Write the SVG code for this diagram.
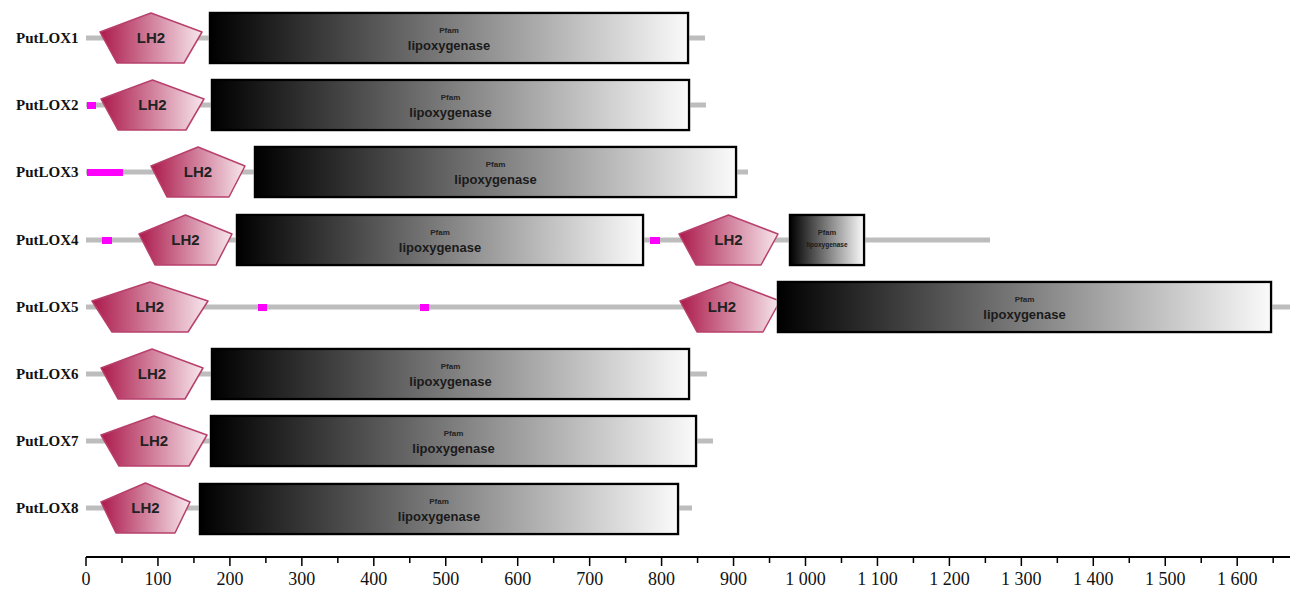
<svg xmlns="http://www.w3.org/2000/svg" width="1296" height="591" viewBox="0 0 1296 591">
<defs>
<linearGradient id="gPfam" x1="0" y1="0" x2="1" y2="0">
<stop offset="0" stop-color="#000"/>
<stop offset="1" stop-color="#fafafa"/>
</linearGradient>
<linearGradient id="gLH2" x1="0" y1="0" x2="1" y2="0">
<stop offset="0" stop-color="#ac1a4c"/>
<stop offset="1" stop-color="#f7e6ec"/>
</linearGradient>
<style>
.lab{font-family:"Liberation Serif",serif;font-weight:bold;font-size:15px;fill:#111}
.bb{fill:#bdbdbd}
.lh{fill:url(#gLH2);stroke:#b8406c;stroke-width:1.5;stroke-linejoin:round}
.lht{font-family:"Liberation Sans",Arial,sans-serif;font-weight:bold;font-size:15px;fill:#222;text-anchor:middle}
.pf{fill:url(#gPfam);stroke:#000;stroke-width:2.2}
.pfo{fill:none;stroke:#bbb;stroke-width:1}
.pt{font-family:"Liberation Sans",Arial,sans-serif;font-weight:bold;font-size:8px;fill:#222;text-anchor:middle}
.lt{font-family:"Liberation Sans",Arial,sans-serif;font-weight:bold;font-size:13px;fill:#1a1a1a;text-anchor:middle}
.mg{fill:#ff00ff}
.ax{stroke:#000;stroke-width:2;fill:none}
.tk{stroke:#000;stroke-width:1.5}
.tl{font-family:"Liberation Serif",serif;font-size:18px;fill:#111;text-anchor:middle}
</style>
</defs>

<g id="connectors">
<rect class="bb" x="86" y="35.5" width="619" height="5"/>
<rect class="bb" x="86" y="102.5" width="620" height="5"/>
<rect class="bb" x="86" y="169.5" width="662" height="5"/>
<rect class="bb" x="86" y="237.5" width="904" height="5"/>
<rect class="bb" x="86" y="304.5" width="1204" height="5"/>
<rect class="bb" x="86" y="371.5" width="621" height="5"/>
<rect class="bb" x="86" y="438.5" width="627" height="5"/>
<rect class="bb" x="86" y="505.5" width="606" height="5"/>
</g>

<g id="PutLOX1">
<text class="lab" x="16" y="43">PutLOX1</text>
<polygon class="lh" points="100,32 151,13 202,32 184,63 117,63"/>
<text class="lht" x="151" y="43">LH2</text>
<rect class="pfo" x="209" y="12" width="480" height="52"/>
<rect class="pf" x="210" y="13" width="478" height="50"/>
<text class="pt" x="449" y="33">Pfam</text>
<text class="lt" x="449" y="50">lipoxygenase</text>
</g>

<g id="PutLOX2">
<text class="lab" x="16" y="110">PutLOX2</text>
<rect class="mg" x="87" y="102" width="9" height="7"/>
<polygon class="lh" points="101,99 152.5,80 204,99 186,130 118,130"/>
<text class="lht" x="152.5" y="110">LH2</text>
<rect class="pfo" x="211" y="79" width="479" height="52"/>
<rect class="pf" x="212" y="80" width="477" height="50"/>
<text class="pt" x="450.5" y="100">Pfam</text>
<text class="lt" x="450.5" y="117">lipoxygenase</text>
</g>

<g id="PutLOX3">
<text class="lab" x="16" y="177">PutLOX3</text>
<rect class="mg" x="87" y="169" width="36" height="7"/>
<polygon class="lh" points="151,166 198,147 245,166 229,197 167,197"/>
<text class="lht" x="198" y="177">LH2</text>
<rect class="pfo" x="254" y="146" width="483" height="52"/>
<rect class="pf" x="255" y="147" width="481" height="50"/>
<text class="pt" x="495.5" y="167">Pfam</text>
<text class="lt" x="495.5" y="184">lipoxygenase</text>
</g>

<g id="PutLOX4">
<text class="lab" x="16" y="245">PutLOX4</text>
<rect class="mg" x="102" y="237" width="10" height="7"/>
<polygon class="lh" points="139,234 185.5,215 232,234 216,265 155,265"/>
<text class="lht" x="185.5" y="245">LH2</text>
<rect class="pfo" x="236" y="214" width="408" height="52"/>
<rect class="pf" x="237" y="215" width="406" height="50"/>
<text class="pt" x="440" y="235">Pfam</text>
<text class="lt" x="440" y="252">lipoxygenase</text>
<rect class="mg" x="650" y="237" width="10" height="7"/>
<polygon class="lh" points="679,234 728.5,215 778,234 761,265 696,265"/>
<text class="lht" x="728.5" y="245">LH2</text>
<rect class="pfo" x="789" y="214" width="76" height="52"/>
<rect class="pf" x="790" y="215" width="74" height="50"/>
<text class="pt" x="827" y="235" style="font-size:7.5px">Pfam</text>
<text class="lt" x="827" y="247" style="font-size:6.5px">lipoxygenase</text>
</g>

<g id="PutLOX5">
<text class="lab" x="16" y="312">PutLOX5</text>
<polygon class="lh" points="92,301 150,282 208,301 188,332 112,332"/>
<text class="lht" x="150" y="312">LH2</text>
<rect class="mg" x="258" y="304" width="9" height="7"/>
<rect class="mg" x="420" y="304" width="9" height="7"/>
<polygon class="lh" points="680,301 730,282 780,301 763,332 697,332"/>
<text class="lht" x="722" y="312">LH2</text>
<rect class="pfo" x="777" y="281" width="495" height="52"/>
<rect class="pf" x="778" y="282" width="493" height="50"/>
<text class="pt" x="1024.5" y="302">Pfam</text>
<text class="lt" x="1024.5" y="319">lipoxygenase</text>
</g>

<g id="PutLOX6">
<text class="lab" x="16" y="379">PutLOX6</text>
<polygon class="lh" points="101,368 152,349 203,368 185,399 118,399"/>
<text class="lht" x="152" y="379">LH2</text>
<rect class="pfo" x="211" y="348" width="479" height="52"/>
<rect class="pf" x="212" y="349" width="477" height="50"/>
<text class="pt" x="450.5" y="369">Pfam</text>
<text class="lt" x="450.5" y="386">lipoxygenase</text>
</g>

<g id="PutLOX7">
<text class="lab" x="16" y="446">PutLOX7</text>
<polygon class="lh" points="101,435 154,416 207,435 189,466 119,466"/>
<text class="lht" x="154" y="446">LH2</text>
<rect class="pfo" x="210" y="415" width="487" height="52"/>
<rect class="pf" x="211" y="416" width="485" height="50"/>
<text class="pt" x="453.5" y="436">Pfam</text>
<text class="lt" x="453.5" y="453">lipoxygenase</text>
</g>

<g id="PutLOX8">
<text class="lab" x="16" y="513">PutLOX8</text>
<polygon class="lh" points="101,502 145.5,483 190,502 175,533 116,533"/>
<text class="lht" x="145.5" y="513">LH2</text>
<rect class="pfo" x="199" y="483" width="480" height="52"/>
<rect class="pf" x="200" y="484" width="478" height="50"/>
<text class="pt" x="439" y="504">Pfam</text>
<text class="lt" x="439" y="521">lipoxygenase</text>
</g>

<g id="axis">
<line class="ax" x1="86" y1="557" x2="1290" y2="557"/>
<path class="tk" d="M86,557V566 M157.95,557V566 M229.9,557V566 M301.85,557V566 M373.8,557V566 M445.75,557V566 M517.7,557V566 M589.65,557V566 M661.6,557V566 M733.55,557V566 M805.5,557V566 M877.45,557V566 M949.4,557V566 M1021.35,557V566 M1093.3,557V566 M1165.25,557V566 M1237.2,557V566"/>
<path class="tk" d="M121.98,557V563 M193.93,557V563 M265.88,557V563 M337.83,557V563 M409.78,557V563 M481.73,557V563 M553.68,557V563 M625.63,557V563 M697.58,557V563 M769.53,557V563 M841.48,557V563 M913.43,557V563 M985.38,557V563 M1057.33,557V563 M1129.28,557V563 M1201.23,557V563 M1273.18,557V563"/>
<text class="tl" x="86" y="585">0</text>
<text class="tl" x="157.95" y="585">100</text>
<text class="tl" x="229.9" y="585">200</text>
<text class="tl" x="301.85" y="585">300</text>
<text class="tl" x="373.8" y="585">400</text>
<text class="tl" x="445.75" y="585">500</text>
<text class="tl" x="517.7" y="585">600</text>
<text class="tl" x="589.65" y="585">700</text>
<text class="tl" x="661.6" y="585">800</text>
<text class="tl" x="733.55" y="585">900</text>
<text class="tl" x="805.5" y="585">1 000</text>
<text class="tl" x="877.45" y="585">1 100</text>
<text class="tl" x="949.4" y="585">1 200</text>
<text class="tl" x="1021.35" y="585">1 300</text>
<text class="tl" x="1093.3" y="585">1 400</text>
<text class="tl" x="1165.25" y="585">1 500</text>
<text class="tl" x="1237.2" y="585">1 600</text>
</g>
</svg>
